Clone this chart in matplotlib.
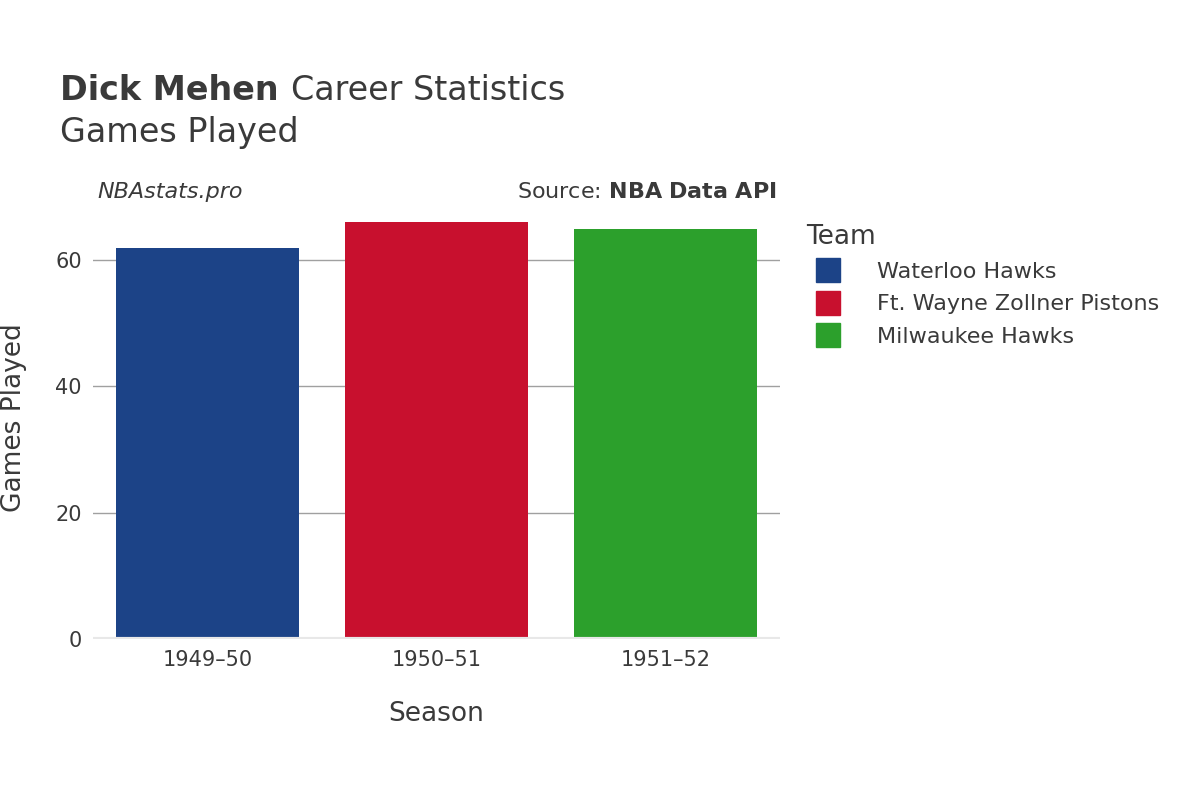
import matplotlib.pyplot as plt
from matplotlib.lines import Line2D

seasons = ["1949–50", "1950–51", "1951–52"]
teams = ["Waterloo Hawks", "Ft. Wayne Zollner Pistons", "Milwaukee Hawks"]
games = [62, 66, 65]
colors = ["#1c4387", "#c8102e", "#2ca02c"]

text_color = "#3a3a3a"

fig = plt.figure(figsize=(12, 8), dpi=100)
ax = fig.add_axes([0.0775, 0.20125, 0.5725, 0.5525])

ax.bar(range(len(seasons)), games, width=0.8, color=colors, zorder=2)
ax.set_xlim(-0.5, 2.5)
ax.set_ylim(0, 70)
ax.set_yticks([0, 20, 40, 60])
ax.yaxis.grid(True, color="#a0a0a0", linewidth=1, zorder=0)
ax.axhline(0, color="#e8e8e8", linewidth=3, zorder=3)
ax.set_xticks(range(len(seasons)))
ax.set_xticklabels(seasons)
ax.tick_params(axis="both", length=0, labelsize=15, labelcolor=text_color, pad=8)
for s in ax.spines.values():
    s.set_visible(False)

ax.set_xlabel("Season", fontsize=19, color=text_color, labelpad=22)
ax.set_ylabel("Games Played", fontsize=19, color=text_color, labelpad=20)

fig.text(0.05, 0.875, "Dick Mehen", fontsize=24, fontweight="bold", color=text_color, va="baseline")
fig.text(0.2425, 0.875, "Career Statistics", fontsize=24, color=text_color, va="baseline")
fig.text(0.05, 0.823, "Games Played", fontsize=24, color=text_color, va="baseline")
fig.text(0.081, 0.752, "NBAstats.pro", fontsize=16, style="italic", color=text_color, va="baseline")
fig.text(0.647, 0.752, "Source: $\\bf{NBA\\ Data\\ API}$", fontsize=16, color=text_color,
         va="baseline", ha="right")

handles = [Line2D([], [], marker="s", linestyle="", markersize=17, color=c) for c in colors]
leg = fig.legend(handles, teams, loc="upper left", bbox_to_anchor=(0.655, 0.745),
                 frameon=False, fontsize=16, title="Team", title_fontsize=19,
                 labelcolor=text_color, handletextpad=1.2, labelspacing=0.55)
leg.get_title().set_color(text_color)
leg._legend_box.align = "left"

fig.savefig("out.png", dpi=100)
